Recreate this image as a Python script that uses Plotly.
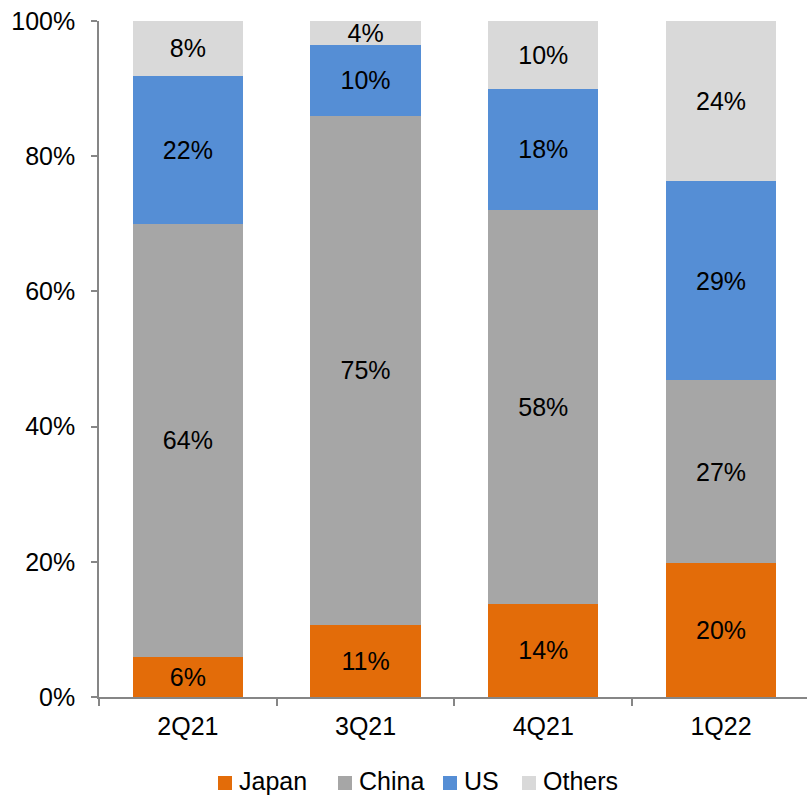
import plotly.graph_objects as go

quarters = ["2Q21", "3Q21", "4Q21", "1Q22"]
japan = [5.9, 10.7, 13.8, 19.8]
china = [64.1, 75.3, 58.3, 27.1]
us = [21.9, 10.4, 17.9, 29.4]
others = [8.1, 3.6, 10.0, 23.7]

names = ["Japan", "China", "US", "Others"]
colors = ["#E36C09", "#A6A6A6", "#558ED5", "#D9D9D9"]
values = [japan, china, us, others]

FONT = "Liberation Sans, Arial, sans-serif"
FS = 25

# plot-area geometry (pixels)
W, H = 807, 796
L, T, B = 99, 21, 99
PW, PH = W - L, H - T - B


def px2x(px):
    return (px - L) / PW


def py2y(py):
    return (H - B - py) / PH


fig = go.Figure()
for name, vals, color in zip(names, values, colors):
    fig.add_trace(go.Bar(
        x=quarters, y=vals, name=name,
        marker=dict(color=color, line=dict(width=0)),
        texttemplate="%{y:.0f}%",
        textposition="inside",
        insidetextanchor="middle",
        constraintext="none",
        textfont=dict(size=FS, color="black", family=FONT),
        width=0.62,
        showlegend=False,
    ))

# custom legend (squares + labels) to mimic the original layout
legend_sq_left = [218, 338, 443, 522]
legend_cy = 783
sq = 14
for name, color, sx in zip(names, colors, legend_sq_left):
    fig.add_shape(
        type="rect", xref="paper", yref="paper",
        x0=px2x(sx), x1=px2x(sx + sq),
        y0=py2y(legend_cy + sq / 2), y1=py2y(legend_cy - sq / 2),
        fillcolor=color, line=dict(width=0),
    )
    fig.add_annotation(
        xref="paper", yref="paper", x=px2x(sx + sq + 5), y=py2y(legend_cy - 2),
        text=name, showarrow=False, xanchor="left", yanchor="middle",
        font=dict(size=FS, color="black", family=FONT),
    )

fig.update_layout(
    barmode="stack",
    width=W, height=H,
    margin=dict(l=L, r=0, t=T, b=B),
    paper_bgcolor="white", plot_bgcolor="white",
    font=dict(family=FONT, size=FS, color="black"),
    showlegend=False,
    xaxis=dict(
        range=[-0.5, 3.484],
        showline=True, linecolor="#868686", linewidth=1.5,
        ticks="outside", ticklen=7, tickcolor="#868686", tickwidth=1.5,
        tickson="boundaries", showgrid=False,
        ticklabelstandoff=6,
        tickfont=dict(size=FS, color="black"),
    ),
    yaxis=dict(
        range=[0, 100], tickvals=[0, 20, 40, 60, 80, 100],
        ticktext=["0%", "20%", "40%", "60%", "80%", "100%"],
        showline=True, linecolor="#868686", linewidth=1.5,
        ticks="outside", ticklen=6, tickcolor="#868686", tickwidth=1.5,
        showgrid=False, zeroline=False,
        ticklabelstandoff=11,
        tickfont=dict(size=FS, color="black"),
    ),
)

fig.write_html("out.html")
